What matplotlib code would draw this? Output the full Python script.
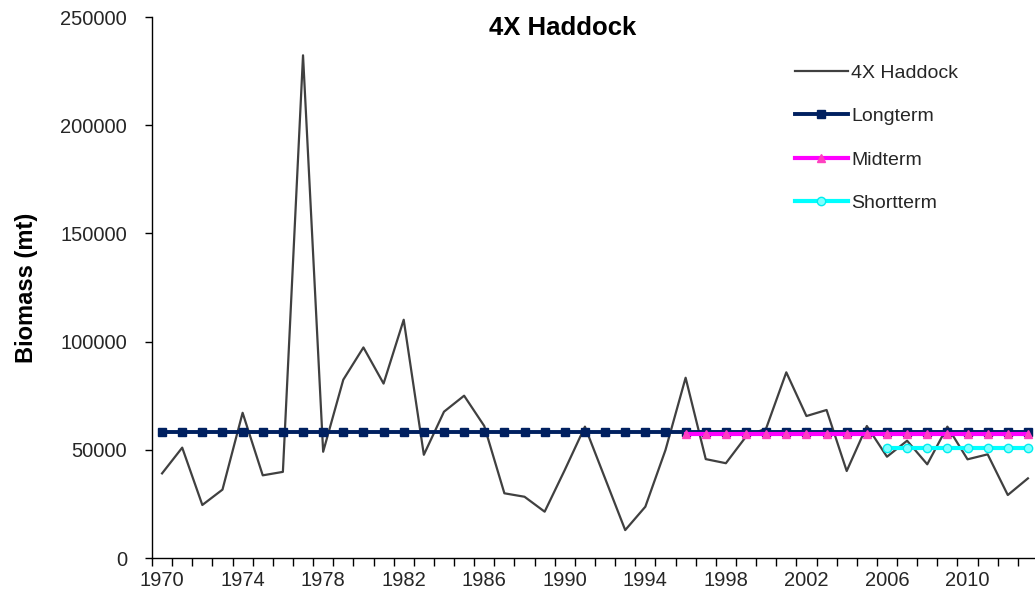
import matplotlib
matplotlib.use("Agg")
import matplotlib.pyplot as plt
import numpy as np

years = list(range(1970, 2014))
haddock = [39100, 51000, 24500, 31600, 67100, 38200, 39800, 232300, 49100, 82400,
           97300, 80600, 110100, 47700, 67600, 75000, 61000, 29900, 28300, 21400,
           40700, 60700, 36800, 12900, 23700, 49900, 83300, 45700, 43800, 56100,
           59900, 85800, 65600, 68400, 40200, 61000, 46800, 54200, 43300, 60700,
           45600, 47900, 29100, 36800]
longterm_value = 58000
midterm_value = 57300
shortterm_value = 51000
midterm_start = 1996
shortterm_start = 2006
tick_labels = [str(y) for y in range(1970, 2014, 4)]

plt.rcParams['font.family'] = ['Liberation Sans', 'DejaVu Sans']

fig = plt.figure(figsize=(10.35, 5.97), dpi=100)
ax = fig.add_axes([152/1035, 39/597, 886/1035, 541/597])

x = np.arange(len(years))
ax.plot(x, haddock, color='#404040', lw=1.6, label='4X Haddock', zorder=2)

ax.plot(x, [longterm_value]*len(years), color='#002060', lw=2.8, marker='s',
        markersize=5.8, markerfacecolor='#002060', markeredgecolor='#002060',
        label='Longterm', zorder=3)

mid_idx = [i for i, y in enumerate(years) if y >= midterm_start]
ax.plot(mid_idx, [midterm_value]*len(mid_idx), color='#FF00FF', lw=3.0, marker='^',
        markersize=6, markerfacecolor='#FF40C0', markeredgecolor='#FF40C0',
        label='Midterm', zorder=4)

short_idx = [i for i, y in enumerate(years) if y >= shortterm_start]
ax.plot(short_idx, [shortterm_value]*len(short_idx), color='#00FFFF', lw=3.0, marker='o',
        markersize=6, markerfacecolor='#7FFFFF', markeredgecolor='#00EEEE',
        label='Shortterm', zorder=5)

ax.set_xlim(-0.5, len(years) - 0.5)
ax.set_ylim(0, 250000)
ax.set_yticks(np.arange(0, 250001, 50000))
ax.set_yticklabels([str(v) for v in range(0, 250001, 50000)])
major = [years.index(int(t)) for t in tick_labels]
ax.set_xticks(major)
ax.set_xticklabels(tick_labels)
ax.set_xticks(np.arange(-0.5, len(years), 1.0), minor=True)
ax.tick_params(axis='x', which='major', length=0, pad=9, labelsize=14.5, labelcolor='#262626')
ax.tick_params(axis='x', which='minor', length=6, width=1.0, direction='out')
ax.tick_params(axis='y', which='major', length=5, width=1.0, direction='out', labelsize=14.5,
               pad=13, labelcolor='#262626')

for s in ['top', 'right']:
    ax.spines[s].set_visible(False)
for s in ['left', 'bottom']:
    ax.spines[s].set_linewidth(1.0)
    ax.spines[s].set_color('#000000')

ax.set_ylabel('Biomass (mt)', fontsize=17, fontweight='bold', labelpad=16)
fig.text(563/1035, 1 - 28/597, '4X Haddock', fontsize=18.5, fontweight='bold',
         ha='center', va='center')

leg = ax.legend(loc='upper left', bbox_to_anchor=(795/1035, 1 - 64/597),
                bbox_transform=fig.transFigure, frameon=False, fontsize=14,
                handlelength=2.7, handletextpad=0.2, labelspacing=1.33,
                borderpad=0, borderaxespad=0)
for t in leg.get_texts():
    t.set_color('#262626')

fig.savefig('out.png', dpi=100)
